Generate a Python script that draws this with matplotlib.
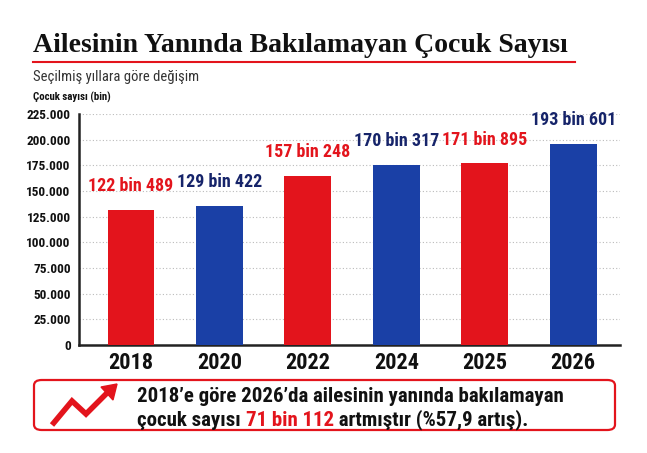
import matplotlib
matplotlib.use("Agg")
import matplotlib.pyplot as plt
from matplotlib.patches import FancyBboxPatch
from matplotlib.lines import Line2D
from matplotlib.ticker import FuncFormatter
import logging

logging.getLogger("matplotlib.font_manager").setLevel(logging.ERROR)

# data
years = ["2018", "2020", "2022", "2024", "2025", "2026"]
bar_heights = [131500, 135300, 164600, 175600, 176900, 196000]
bar_labels = ["122 bin 489", "129 bin 422", "157 bin 248", "170 bin 317", "171 bin 895", "193 bin 601"]
yticks = [0, 25000, 50000, 75000, 100000, 125000, 150000, 175000, 200000, 225000]

RED = "#e3141c"
BLUE = "#1a40a6"
NAVY = "#16246a"
DARK = "#111111"
NARROW = ["Roboto Condensed", "Liberation Sans Narrow", "Roboto", "DejaVu Sans"]

W, H = 647, 453


def fx(px):
    return px / W


def fy(py):
    return 1 - py / H


def main():
    fig = plt.figure(figsize=(W / 100, H / 100), dpi=100)
    fig.patch.set_facecolor("white")

    # title block
    fig.text(fx(33), fy(45), "Ailesinin Yanında Bakılamayan Çocuk Sayısı",
             family=["Liberation Serif", "DejaVu Serif"], weight="bold",
             size=20, color=DARK, va="center", ha="left")
    fig.add_artist(Line2D([fx(33), fx(575)], [fy(62), fy(62)], color=RED, lw=1.5))
    fig.text(fx(33), fy(77), "Seçilmiş yıllara göre değişim", family=NARROW,
             size=10.5, color="#333333", va="center")
    fig.text(fx(33), fy(97), "Çocuk sayısı (bin)", family=NARROW, weight="bold",
             size=7.8, color=DARK, va="center")

    # chart
    ax = fig.add_axes([fx(79), fy(345), fx(620) - fx(79), fy(114) - fy(345)])
    x = range(len(years))
    colors = [RED if i % 2 == 0 else BLUE for i in x]
    label_colors = [RED if i % 2 == 0 else NAVY for i in x]
    ax.bar(x, bar_heights, width=0.53, color=colors, zorder=3)
    for i, (h, lab) in enumerate(zip(bar_heights, bar_labels)):
        ax.annotate(lab, (i, h), xytext=(0, 17), textcoords="offset points",
                    ha="center", va="center", family=NARROW, weight="bold",
                    size=13, color=label_colors[i])

    ax.set_xlim(-0.588, 5.53)
    ax.set_ylim(0, 225000)
    ax.set_yticks(yticks)
    ax.yaxis.set_major_formatter(FuncFormatter(lambda v, p: f"{int(v):,}".replace(",", ".")))
    ax.set_xticks(list(x))
    ax.set_xticklabels(years)
    ax.tick_params(axis="y", length=0, pad=6, labelsize=9.5)
    ax.tick_params(axis="x", length=0, pad=5, labelsize=16)
    for t in ax.get_yticklabels() + ax.get_xticklabels():
        t.set_family(NARROW)
        t.set_weight("bold")
        t.set_color(DARK)

    ax.grid(axis="y", linestyle=(0, (1, 2)), color="#bbbbbb", lw=0.8, zorder=0)
    for s in ["top", "right"]:
        ax.spines[s].set_visible(False)
    for s in ["left", "bottom"]:
        ax.spines[s].set_linewidth(1.8)
        ax.spines[s].set_color("#222222")
    ax.set_facecolor("none")

    # summary box
    box = FancyBboxPatch((fx(34), fy(430)), fx(615) - fx(34), fy(380) - fy(430),
                         boxstyle="round,pad=0,rounding_size=0.012",
                         transform=fig.transFigure, fill=False,
                         edgecolor=RED, lw=1.6)
    fig.add_artist(box)

    # zigzag arrow icon
    zx = [fx(52), fx(72), fx(86), fx(108)]
    zy = [fy(425), fy(401), fy(414), fy(392)]
    fig.add_artist(Line2D(zx, zy, color=RED, lw=4, solid_capstyle="butt",
                          solid_joinstyle="miter"))
    fig.add_artist(plt.Polygon([[fx(117), fy(384)], [fx(101), fy(387)], [fx(113), fy(400)]],
                               closed=True, color=RED, transform=fig.transFigure))

    style = dict(family=NARROW, weight="bold", size=15, va="center")
    fig.text(fx(137), fy(397), "2018’e göre 2026’da ailesinin yanında bakılamayan",
             color=DARK, **style)

    fig.canvas.draw()
    renderer = fig.canvas.get_renderer()
    xpos = fx(137)
    for piece, col in [("çocuk sayısı ", DARK), ("71 bin 112", RED),
                       (" artmıştır (%57,9 artış).", DARK)]:
        t = fig.text(xpos, fy(420), piece, color=col, **style)
        bb = t.get_window_extent(renderer)
        xpos += bb.width / fig.bbox.width

    fig.savefig("out.png", dpi=100)


if __name__ == "__main__":
    main()
